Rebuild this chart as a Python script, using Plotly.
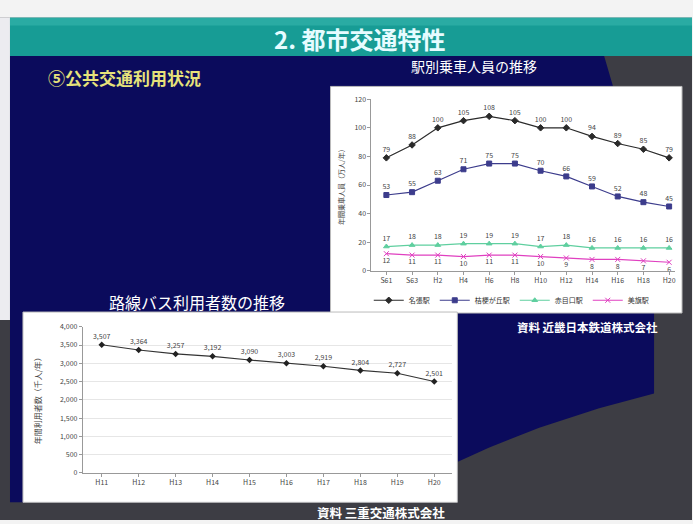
import plotly.graph_objects as go

W, H = 693, 524

def px(x):
    return x / W

def py(y):
    return 1 - y / H

# ---- data ----
station_years = ["S61", "S63", "H2", "H4", "H6", "H8", "H10", "H12", "H14", "H16", "H18", "H20"]
station_names = ["名張駅", "桔梗が丘駅", "赤目口駅", "美旗駅"]
station_a = [79, 88, 100, 105, 108, 105, 100, 100, 94, 89, 85, 79]
station_b = [53, 55, 63, 71, 75, 75, 70, 66, 59, 52, 48, 45]
station_c = [17, 18, 18, 19, 19, 19, 17, 18, 16, 16, 16, 16]
station_d = [12, 11, 11, 10, 11, 11, 10, 9, 8, 8, 7, 6]

bus_years = ["H11", "H12", "H13", "H14", "H15", "H16", "H17", "H18", "H19", "H20"]
bus_users = [3507, 3364, 3257, 3192, 3090, 3003, 2919, 2804, 2727, 2501]

FONT = "Noto Sans CJK JP"

fig = go.Figure()

station_series = [station_a, station_b, station_c, station_d]
colors = ["#2a2a2a", "#3c3c8c", "#5fcf9f", "#e040c0"]
symbols = ["diamond", "square", "triangle-up", "x-thin"]
positions = ["top center", "top center", "top center", "bottom center"]
for name, vals, col, sym, pos in zip(station_names, station_series, colors, symbols, positions):
    fig.add_trace(go.Scatter(
        x=list(range(len(station_years))), y=vals, name=name,
        mode="lines+markers+text", text=[str(v) for v in vals],
        textposition=pos, textfont=dict(size=7, color="#444", family=FONT),
        line=dict(color=col, width=1.2),
        marker=dict(symbol=sym, size=5, color=col, line=dict(color=col, width=1)),
        xaxis="x", yaxis="y", cliponaxis=False,
    ))

fig.add_trace(go.Scatter(
    x=list(range(len(bus_years))), y=bus_users, name="路線バス",
    mode="lines+markers+text", texttemplate="%{y:,}",
    textposition="top center", textfont=dict(size=7, color="#444", family=FONT),
    line=dict(color="#333", width=1.2),
    marker=dict(symbol="diamond", size=5, color="#222"),
    xaxis="x2", yaxis="y2", showlegend=False, cliponaxis=False,
))

def path(points):
    return "M " + " L ".join(f"{px(x):.5f} {py(y):.5f}" for x, y in points) + " Z"

def rect(x0, y0, x1, y1, fill, line=None):
    return dict(type="rect", xref="paper", yref="paper", x0=px(x0), x1=px(x1),
                y0=py(y1), y1=py(y0), fillcolor=fill,
                line=line if line else dict(width=0), layer="below")

shapes = [
    rect(0, 12, 693, 524, "#3d3d44"),
    rect(0, 12, 10, 320, "#ececf0"),
    rect(10, 12, 693, 51, "#179c95"),
    rect(10, 12, 693, 20, "#2aaba3"),
    dict(type="path", xref="paper", yref="paper",
         path=path([(10, 51), (605, 51), (622, 110), (645, 200), (655, 300), (655, 395),
                    (600, 410), (540, 430), (490, 450), (458, 465), (458, 506), (10, 506)]),
         fillcolor="#0b0b5c", line=dict(width=0), layer="below"),
    rect(331, 82, 683, 313, "white", dict(color="#bbbbbb", width=1)),
    rect(23, 312, 458, 506, "white", dict(color="#bbbbbb", width=1)),
]

def ann(text, x, y, size, color, angle=0):
    return dict(text=text, x=px(x), y=py(y), xref="paper", yref="paper",
                xanchor="center", yanchor="middle", showarrow=False, textangle=angle,
                font=dict(size=size, color=color, family=FONT))

annotations = [
    ann("<b>2. 都市交通特性</b>", 360, 33, 24, "#e6fcff"),
    ann("<b>⑤公共交通利用状況</b>", 125, 73, 17, "#e6e27a"),
    ann("駅別乗車人員の推移", 475, 61, 14, "white"),
    ann("路線バス利用者数の推移", 197, 302, 16, "white"),
    ann("<b>資料 近畿日本鉄道株式会社</b>", 588, 327, 11.5, "white"),
    ann("<b>資料 三重交通株式会社</b>", 382, 516, 12.5, "white"),
    ann("年間乗車人員（万人/年）", 341, 183, 7, "#444", -90),
    ann("年間利用者数（千人/年）", 37, 400, 8, "#444", -90),
]

fig.update_layout(
    width=W, height=H, margin=dict(l=0, r=0, t=0, b=0),
    paper_bgcolor="#f3f3f3", plot_bgcolor="rgba(0,0,0,0)",
    shapes=shapes, annotations=annotations,
    font=dict(family=FONT),
    xaxis=dict(domain=[px(372), px(676)], anchor="y", range=[-0.58, 11.23],
               tickvals=list(range(len(station_years))), ticktext=station_years,
               tickfont=dict(size=7, color="#444"), showgrid=False, zeroline=False,
               showline=True, linecolor="#999", mirror=False, ticks="outside", ticklen=3,
               tickcolor="#999"),
    yaxis=dict(domain=[py(270), py(95)], anchor="x", range=[0, 120], dtick=20,
               tickfont=dict(size=7, color="#444"), showgrid=False, zeroline=False,
               showline=True, linecolor="#999", ticks="outside", ticklen=3, tickcolor="#999"),
    xaxis2=dict(domain=[px(83), px(453)], anchor="y2", range=[-0.51, 9.49],
                tickvals=list(range(len(bus_years))), ticktext=bus_years,
                tickfont=dict(size=7, color="#444"), showgrid=False, zeroline=False,
                showline=True, linecolor="#999", ticks="outside", ticklen=3, tickcolor="#999"),
    yaxis2=dict(domain=[py(476), py(327)], anchor="x2", range=[0, 4000], dtick=500,
                tickformat=",", tickfont=dict(size=7, color="#444"), showgrid=True,
                gridcolor="#e6e6e6", zeroline=False, showline=True, linecolor="#999",
                ticks="outside", ticklen=3, tickcolor="#999"),
    legend=dict(orientation="h", x=px(512), y=py(300), xanchor="center", yanchor="middle",
                font=dict(size=7, color="#333"), bgcolor="rgba(0,0,0,0)",
                itemwidth=30, tracegroupgap=0),
)

fig.write_html("out.html")
